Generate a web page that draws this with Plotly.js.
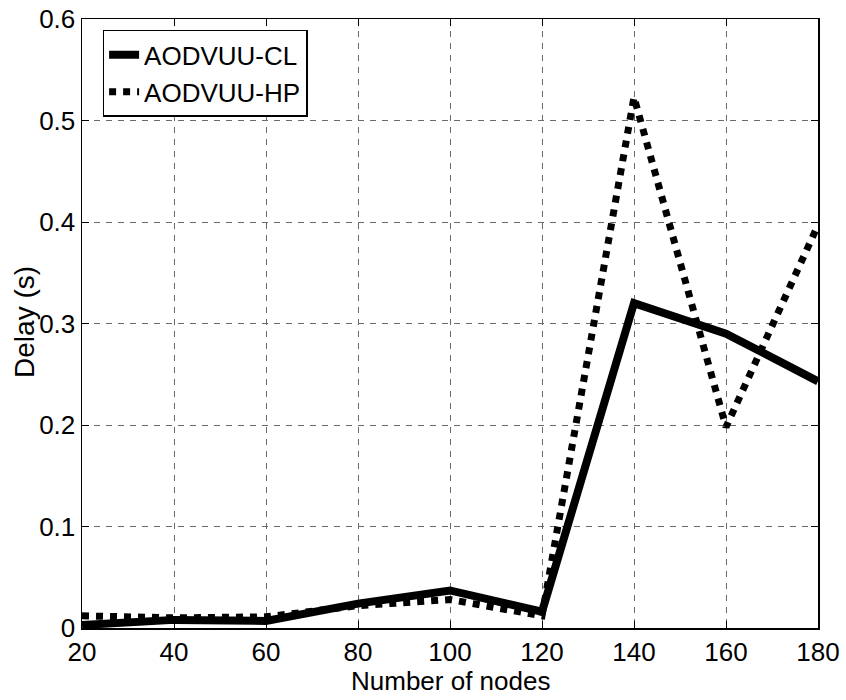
<!DOCTYPE html>
<html>
<head>
<meta charset="utf-8">
<script src="https://cdn.plot.ly/plotly-3.0.1.min.js"></script>
<style>html,body{margin:0;padding:0;background:#fff;}#chart{width:846px;height:700px;}</style>
</head>
<body>
<div id="chart"></div>
<script>
const nodes = [20, 40, 60, 80, 100, 120, 140, 160, 180];
const delayCL = [0.003, 0.008, 0.007, 0.024, 0.037, 0.016, 0.320, 0.290, 0.243];
const delayHP = [0.012, 0.010, 0.011, 0.022, 0.028, 0.012, 0.523, 0.198, 0.397];
const seriesNames = ['AODVUU-CL', 'AODVUU-HP'];
const xTicks = [20, 40, 60, 80, 100, 120, 140, 160, 180];
const yTicks = [0, 0.1, 0.2, 0.3, 0.4, 0.5, 0.6];
const yTickText = ['0', '0.1', '0.2', '0.3', '0.4', '0.5', '0.6'];
const xTitle = 'Number of nodes';
const yTitle = 'Delay (s)';

const font = 'Liberation Sans, Arial, Helvetica, sans-serif';

const traces = [
  {x: nodes, y: delayCL, name: seriesNames[0], mode: 'lines',
   line: {color: '#000', width: 8, dash: 'solid'}},
  {x: nodes, y: delayHP, name: seriesNames[1], mode: 'lines',
   line: {color: '#000', width: 7, dash: 'dot'}}
];

const axisCommon = {
  showline: true, linecolor: '#000', linewidth: 1.5, mirror: 'ticks',
  ticks: 'inside', ticklen: 7, tickwidth: 1, tickcolor: '#000',
  showgrid: true, gridcolor: '#6a6a6a', gridwidth: 1, griddash: '6px,6px',
  zeroline: false, tickfont: {family: font, size: 26, color: '#000'}
};

const layout = {
  width: 846, height: 700,
  margin: {l: 82, r: 28, t: 19, b: 72, pad: 0},
  paper_bgcolor: '#fff', plot_bgcolor: '#fff',
  showlegend: true,
  legend: {x: 0.028, y: 0.982, xanchor: 'left', yanchor: 'top',
    bgcolor: '#fff', bordercolor: '#000', borderwidth: 1.5,
    font: {family: font, size: 26, color: '#000'},
    tracegroupgap: 0, itemwidth: 30},
  xaxis: Object.assign({}, axisCommon, {
    range: [20, 180], tickvals: xTicks, ticktext: xTicks.map(String)
  }),
  yaxis: Object.assign({}, axisCommon, {
    range: [0, 0.6], tickvals: yTicks, ticktext: yTickText
  }),
  annotations: [
    {text: xTitle, xref: 'paper', yref: 'paper', x: 0.5, y: -0.087,
     xanchor: 'center', yanchor: 'middle', showarrow: false,
     font: {family: font, size: 26, color: '#000'}},
    {text: yTitle, xref: 'paper', yref: 'paper', x: -0.0775, y: 0.5025,
     xanchor: 'center', yanchor: 'middle', textangle: -90, showarrow: false,
     font: {family: font, size: 28, color: '#000'}}
  ]
};

Plotly.newPlot('chart', traces, layout, {displayModeBar: false, staticPlot: true});
</script>
</body>
</html>
